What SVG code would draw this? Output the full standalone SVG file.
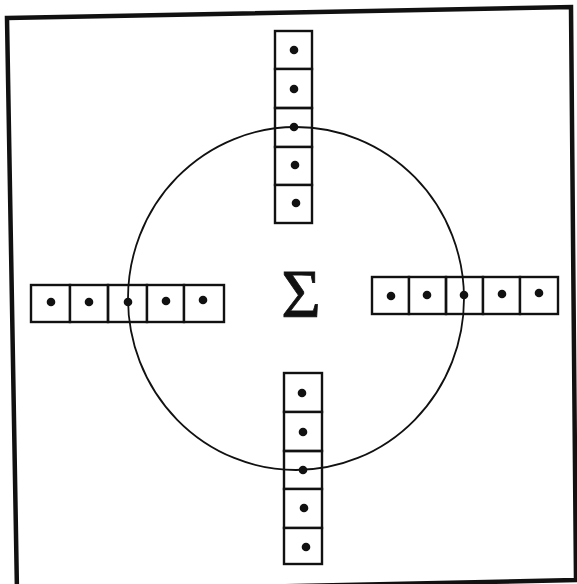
<svg xmlns="http://www.w3.org/2000/svg" width="577" height="584" viewBox="0 0 577 584">
<style>
.cell{fill:#fff;stroke:#111;stroke-width:2.4}
.open{fill:none;stroke:#111;stroke-width:2.4}
.dot{fill:#111}
.frame{fill:none;stroke:#111;stroke-width:4.5;stroke-linejoin:miter}
.ring{fill:none;stroke:#111;stroke-width:1.8}
.sig{font-family:"Liberation Serif",serif;font-size:68px;fill:#111;stroke:#111;stroke-width:0.8}
</style>
<rect width="577" height="584" fill="#fff"/>
<polygon id="frame" class="frame" points="7,18 571,7 576,580 17,592"/>
<g id="connectors">
<ellipse class="ring" cx="296" cy="298.5" rx="168" ry="171.5"/>
</g>
<g id="top-strip">
<rect class="cell" x="275" y="31" width="37" height="38"/>
<rect class="cell" x="275" y="69" width="37" height="39"/>
<rect class="open" x="275" y="108" width="37" height="39"/>
<rect class="cell" x="275" y="147" width="37" height="38"/>
<rect class="cell" x="275" y="185" width="37" height="38"/>
<circle class="dot" cx="294" cy="50" r="4.3"/>
<circle class="dot" cx="294" cy="89" r="4.3"/>
<circle class="dot" cx="294" cy="127" r="4.3"/>
<circle class="dot" cx="295" cy="165" r="4.3"/>
<circle class="dot" cx="296" cy="203" r="4.3"/>
</g>
<g id="left-strip">
<rect class="cell" x="31" y="285" width="39" height="37"/>
<rect class="cell" x="70" y="285" width="38" height="37"/>
<rect class="open" x="108" y="285" width="39" height="37"/>
<rect class="cell" x="147" y="285" width="37" height="37"/>
<rect class="cell" x="184" y="285" width="40" height="37"/>
<circle class="dot" cx="51" cy="302" r="4.3"/>
<circle class="dot" cx="89" cy="302" r="4.3"/>
<circle class="dot" cx="128" cy="302" r="4.3"/>
<circle class="dot" cx="166" cy="301" r="4.3"/>
<circle class="dot" cx="203" cy="300" r="4.3"/>
</g>
<g id="right-strip">
<rect class="cell" x="372" y="277" width="37" height="37"/>
<rect class="cell" x="409" y="277" width="37" height="37"/>
<rect class="open" x="446" y="277" width="37" height="37"/>
<rect class="cell" x="483" y="277" width="37" height="37"/>
<rect class="cell" x="520" y="277" width="38" height="37"/>
<circle class="dot" cx="391" cy="296" r="4.3"/>
<circle class="dot" cx="427" cy="295" r="4.3"/>
<circle class="dot" cx="464" cy="295" r="4.3"/>
<circle class="dot" cx="502" cy="294" r="4.3"/>
<circle class="dot" cx="539" cy="293" r="4.3"/>
</g>
<g id="bottom-strip">
<rect class="cell" x="284" y="373" width="38" height="39"/>
<rect class="cell" x="284" y="412" width="38" height="39"/>
<rect class="open" x="284" y="451" width="38" height="38"/>
<rect class="cell" x="284" y="489" width="38" height="39"/>
<rect class="cell" x="284" y="528" width="38" height="36"/>
<circle class="dot" cx="302" cy="393" r="4.3"/>
<circle class="dot" cx="303" cy="432" r="4.3"/>
<circle class="dot" cx="303" cy="470" r="4.3"/>
<circle class="dot" cx="304" cy="508" r="4.3"/>
<circle class="dot" cx="306" cy="547" r="4.3"/>
</g>
<g id="sigma">
<text class="sig" x="301" y="316" text-anchor="middle">Σ</text>
</g>
</svg>
